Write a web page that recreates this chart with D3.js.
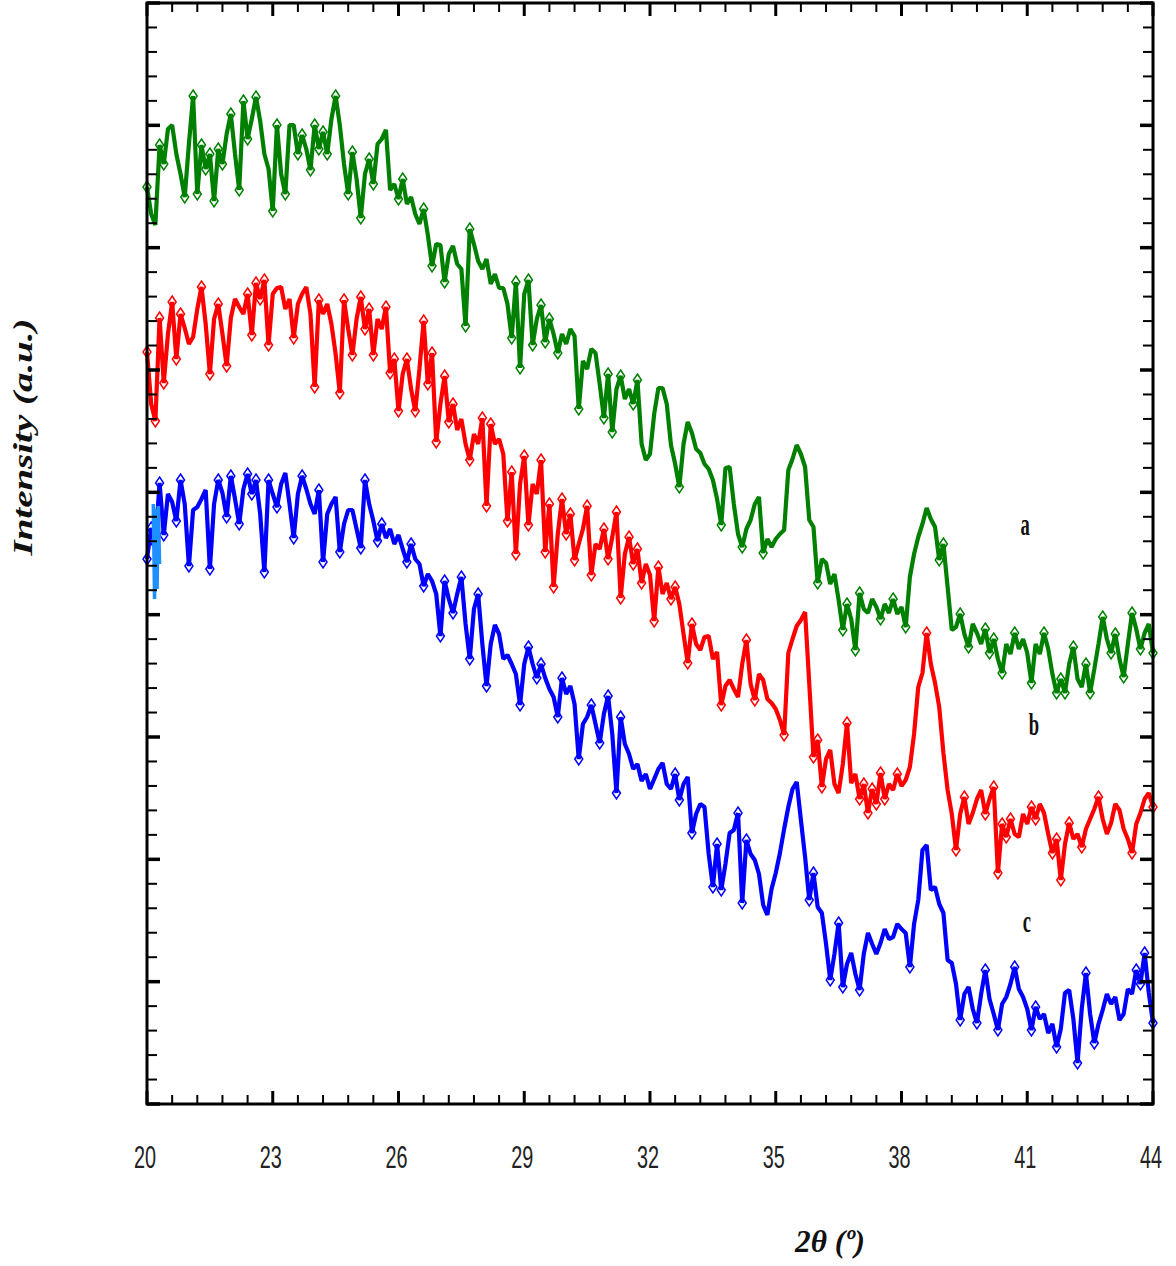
<!DOCTYPE html>
<html><head><meta charset="utf-8">
<script src="https://cdn.jsdelivr.net/npm/d3@7/dist/d3.min.js"></script>
<style>body{margin:0;background:#fff}</style>
</head><body>
<svg id="chart" width="1176" height="1266"></svg>
<script>
// 2θ grid: 20.0 .. 44.0 in 0.1° steps
const angleStart = 20, angleStep = 0.1;
// intensity (a.u.)
const seriesA = [
917,890,879,959,940,975,979,950,930,907,
960,1008,910,959,935,950,903,955,940,970,
990,950,914,1003,965,985,1007,983,950,935,
893,979,930,910,979,979,950,969,955,934,
979,955,972,950,985,1008,979,940,910,952,
925,886,930,945,920,960,965,974,914,920,
905,925,900,907,890,880,895,869,838,860,
859,822,850,858,840,835,778,875,860,843,
835,845,820,830,816,816,800,766,822,736,
810,824,759,785,799,762,785,770,751,770,
760,775,768,695,743,735,755,751,720,686,
730,672,715,728,705,715,700,724,660,644,
650,690,716,716,700,659,640,617,660,682,
671,655,651,640,635,624,605,579,636,637,
600,570,557,575,584,600,607,551,565,557,
565,570,574,634,645,659,650,637,584,577,
521,545,541,520,530,504,474,500,485,454,
511,495,491,505,497,485,500,491,505,490,
497,477,527,550,567,580,596,585,577,544,
560,517,474,477,490,470,457,480,471,460,
475,451,465,445,431,460,450,471,455,465,
451,421,460,450,471,455,430,411,425,411,
440,457,425,417,440,411,435,460,487,465,
451,470,445,427,460,491,475,455,471,480,
451];
const seriesB = [
752,700,683,786,721,770,802,745,790,776,
760,767,795,817,780,730,785,800,770,738,
786,805,797,790,810,769,821,805,824,759,
810,816,817,795,805,766,800,810,817,790,
717,804,790,800,780,750,711,804,775,749,
785,807,775,795,749,785,775,797,731,745,
693,730,745,715,693,735,783,720,751,662,
700,728,682,700,674,685,660,644,670,660,
686,598,680,660,665,650,583,632,550,620,
648,579,620,610,644,552,600,517,570,605,
570,590,544,560,575,598,529,560,555,575,
545,567,592,506,550,567,540,555,521,540,
529,483,537,510,521,505,517,500,470,441,
480,460,454,467,468,445,452,399,418,424,
415,407,440,464,420,404,430,424,405,401,
395,384,369,451,465,478,484,492,420,347,
364,317,345,354,320,311,340,381,321,330,
305,320,291,315,300,331,305,320,314,330,
318,324,337,370,417,431,471,440,421,397,
351,314,290,254,290,307,280,291,305,314,
290,305,317,231,280,267,285,270,267,290,
280,297,285,300,291,270,251,265,224,260,
281,265,270,257,275,285,295,307,285,270,
281,300,294,275,265,251,280,291,305,311,
297];
const seriesC = [
545,576,560,621,569,610,602,583,624,600,
538,594,597,605,614,535,600,624,611,587,
628,605,580,615,630,610,624,590,532,624,
610,597,620,631,600,566,610,628,615,600,
590,614,542,590,600,607,552,580,594,594,
575,556,624,600,583,563,580,566,575,560,
569,555,542,560,545,540,518,530,523,510,
468,523,505,491,510,527,480,445,495,510,
460,418,460,479,470,445,449,440,430,399,
440,457,440,426,440,426,415,407,387,426,
410,418,400,345,380,387,399,380,361,390,
408,370,311,387,360,350,335,340,323,330,
315,325,335,341,320,315,330,304,320,327,
271,290,300,297,250,217,260,214,240,271,
274,291,201,264,250,244,230,199,189,215,
231,251,275,297,315,322,284,247,204,231,
197,191,160,124,150,181,117,140,151,130,
114,150,171,160,150,161,175,165,167,180,
175,171,137,180,204,254,259,214,217,200,
191,144,141,120,84,110,117,95,81,110,
134,105,90,74,100,107,120,137,115,107,
95,74,97,85,90,71,80,57,75,111,
114,85,41,95,131,90,61,80,94,110,
100,107,84,90,115,110,134,120,151,111,
81];
// short light-blue stroke near the start of trace c
const cEdgeAngles = [20.15, 20.18, 20.21, 20.24, 20.27, 20.3];
const cEdgeValues = [600, 505, 595, 515, 598, 540];
const seriesNames = ["a", "b", "c"];
const seriesColors = ["#008000", "#ff0000", "#0000ff"];
const xTickLabels = ["20","23","26","29","32","35","38","41","44"];

const svg = d3.select("#chart");
const L = 147, R = 1153, T = 3, B = 1104;
const x = d3.scaleLinear().domain([20, 44]).range([L, R]);
const y = d3.scaleLinear().domain([0, 1101]).range([B, T]);

const toPts = vals => vals.map((v, i) => [angleStart + i * angleStep, v]);
const line = d3.line().x(d => x(d[0])).y(d => y(d[1]));
const diamond = "M0,-6L4,0L0,6L-4,0Z";

[seriesA, seriesB, seriesC].forEach((vals, si) => {
  const pts = toPts(vals);
  const col = seriesColors[si];
  const g = svg.append("g");
  const marks = pts.filter((p, i) => {
    if (i === 0 || i === pts.length - 1) return true;
    const a = pts[i - 1][1], b = pts[i + 1][1], v = p[1];
    return (v - Math.max(a, b) >= 12) || (Math.min(a, b) - v >= 12);
  });
  g.selectAll("path.m").data(marks).enter().append("path")
    .attr("class", "m")
    .attr("d", diamond)
    .attr("transform", d => `translate(${x(d[0])},${y(d[1])})`)
    .attr("fill", "#fff").attr("stroke", col).attr("stroke-width", 1.5);
  g.append("path").datum(pts).attr("d", line)
    .attr("fill", "none").attr("stroke", col)
    .attr("stroke-width", 4.2).attr("stroke-linejoin", "bevel");
});
svg.append("path")
  .datum(cEdgeAngles.map((a, i) => [a, cEdgeValues[i]]))
  .attr("d", line).attr("fill", "none").attr("stroke", "#1e90ff").attr("stroke-width", 3.5);

// frame and inward ticks on all four sides
const ax = svg.append("g").attr("stroke", "#000");
const xMinor = d3.range(0, 41).map(i => 20 + i * 0.6);
xMinor.forEach((v, i) => {
  const major = i % 5 === 0;
  const len = major ? 13 : 9, w = major ? 3 : 2;
  const px = x(v);
  ax.append("line").attr("x1", px).attr("x2", px).attr("y1", B).attr("y2", B - len).attr("stroke-width", w);
  ax.append("line").attr("x1", px).attr("x2", px).attr("y1", T).attr("y2", T + len).attr("stroke-width", w);
});
const yMinor = d3.range(0, 46).map(i => i * 1101 / 45);
yMinor.forEach((v, i) => {
  const major = i % 5 === 0;
  const len = major ? 13 : 10, w = major ? 3.5 : 2;
  const py = y(v);
  ax.append("line").attr("x1", L).attr("x2", L + len).attr("y1", py).attr("y2", py).attr("stroke-width", w);
  ax.append("line").attr("x1", R).attr("x2", R - len).attr("y1", py).attr("y2", py).attr("stroke-width", w);
});
svg.append("rect").attr("x", L).attr("y", T).attr("width", R - L).attr("height", B - T)
  .attr("fill", "none").attr("stroke", "#000").attr("stroke-width", 3);

// x tick labels
xTickLabels.forEach(t => {
  svg.append("text")
    .attr("transform", `translate(${x(+t) - 2},1168) scale(0.62,1)`)
    .attr("text-anchor", "middle")
    .style("font-family", "'Liberation Sans', Arial, sans-serif")
    .style("font-size", "32px").attr("fill", "#222").text(t);
});

// series labels
const labelSpots = [[40.95, 569], [41.16, 369], [40.99, 172]];
seriesNames.forEach((n, i) => {
  svg.append("text")
    .attr("transform", `translate(${x(labelSpots[i][0])},${y(labelSpots[i][1])}) scale(0.6,1)`)
    .attr("text-anchor", "middle")
    .style("font-family", "'Liberation Serif', 'Times New Roman', serif")
    .style("font-weight", "bold").style("font-size", "31px").attr("fill", "#111").text(n);
});

// axis titles
svg.append("text").attr("x", 830).attr("y", 1252).attr("text-anchor", "middle")
  .style("font-family", "'Liberation Serif', 'Times New Roman', serif")
  .style("font-style", "italic").style("font-weight", "bold").style("font-size", "32px")
  .attr("textLength", 70).attr("lengthAdjust", "spacingAndGlyphs")
  .attr("fill", "#111").text("2θ (º)");
svg.append("text").attr("transform", "translate(32,437) rotate(-90)").attr("text-anchor", "middle")
  .style("font-family", "'Liberation Serif', 'Times New Roman', serif")
  .style("font-style", "italic").style("font-weight", "bold").style("font-size", "28px")
  .attr("textLength", 237).attr("lengthAdjust", "spacingAndGlyphs")
  .attr("fill", "#111").text("Intensity (a.u.)");
</script>
</body></html>
